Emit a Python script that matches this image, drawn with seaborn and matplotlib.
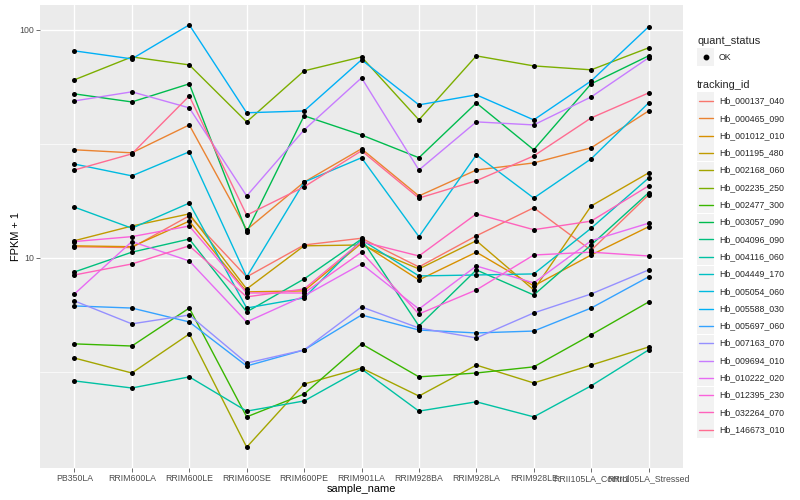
import matplotlib
matplotlib.use("Agg")
import numpy as np
import pandas as pd
import matplotlib.pyplot as plt
from matplotlib.lines import Line2D
from matplotlib.patches import Rectangle
from matplotlib.ticker import NullFormatter
import seaborn as sns

# ---------------------------------------------------------
# data (FPKM + 1)
# ---------------------------------------------------------
samples = ["PB350LA", "RRIM600LA", "RRIM600LE", "RRIM600SE", "RRIM600PE",
           "RRIM901LA", "RRIM928BA", "RRIM928LA", "RRIM928LE",
           "RRII105LA_Control", "RRII105LA_Stressed"]

tracking_ids = ["Hb_000137_040", "Hb_000465_090", "Hb_001012_010", "Hb_001195_480",
                "Hb_002168_060", "Hb_002235_250", "Hb_002477_300", "Hb_003057_090",
                "Hb_004096_090", "Hb_004116_060", "Hb_004449_170", "Hb_005054_060",
                "Hb_005588_030", "Hb_005697_060", "Hb_007163_070", "Hb_009694_010",
                "Hb_010222_020", "Hb_012395_230", "Hb_032264_070", "Hb_146673_010"]

hb_000137_040 = [11.2, 11.1, 15.3, 8.26, 11.4, 12.2, 9.13, 12.5, 16.6, 10.8, 18.9]
hb_000465_090 = [29.8, 28.9, 38.3, 13.3, 21.5, 30.1, 18.7, 24.3, 26.1, 30.4, 44.1]
hb_001012_010 = [11.3, 11.2, 14.5, 7.10, 7.17, 11.6, 8.01, 10.6, 7.54, 10.3, 13.7]
hb_001195_480 = [11.9, 13.8, 15.6, 7.31, 11.3, 11.4, 8.95, 11.9, 7.24, 16.9, 23.6]
hb_002168_060 = [3.64, 3.13, 4.64, 1.48, 2.80, 3.29, 2.48, 3.39, 2.83, 3.39, 4.07]
hb_002235_250 = [60.4, 76.1, 70.2, 39.5, 66.1, 76.1, 40.3, 76.9, 69.5, 66.8, 83.4]
hb_002477_300 = [4.20, 4.11, 6.03, 2.01, 2.53, 4.20, 3.01, 3.13, 3.33, 4.60, 6.41]
hb_003057_090 = [52.4, 48.3, 58.0, 13.0, 42.0, 34.6, 27.5, 47.8, 29.8, 58.0, 76.9]
hb_004096_090 = [8.68, 10.6, 12.1, 5.80, 8.09, 12.1, 5.03, 8.86, 6.88, 11.4, 19.3]
hb_004116_060 = [2.89, 2.69, 3.01, 2.13, 2.36, 3.26, 2.13, 2.34, 2.01, 2.75, 3.95]
hb_004449_170 = [16.7, 13.5, 17.4, 6.03, 6.68, 12.0, 8.34, 8.42, 8.51, 13.5, 22.4]
hb_005054_060 = [25.8, 22.9, 29.2, 8.26, 21.5, 27.5, 12.4, 28.3, 18.3, 27.2, 47.8]
hb_005588_030 = [80.9, 74.6, 105.2, 43.3, 44.1, 73.9, 46.9, 51.9, 40.3, 59.7, 103.1]
hb_005697_060 = [6.16, 6.03, 5.24, 3.36, 3.95, 5.62, 4.83, 4.69, 4.78, 6.03, 8.26]
hb_007163_070 = [6.48, 5.14, 5.62, 3.46, 3.95, 6.10, 4.93, 4.46, 5.74, 6.95, 8.86]
hb_009694_010 = [48.8, 53.5, 45.5, 18.7, 36.4, 61.6, 24.3, 39.5, 38.3, 50.8, 75.4]
hb_010222_020 = [6.95, 11.8, 9.70, 5.24, 6.81, 9.41, 5.97, 9.22, 7.77, 11.9, 14.2]
hb_012395_230 = [11.8, 12.4, 13.8, 7.02, 7.02, 10.6, 5.68, 7.24, 10.3, 10.6, 10.2]
hb_032264_070 = [8.42, 9.41, 11.3, 6.75, 7.31, 11.8, 10.2, 15.6, 13.3, 14.5, 20.7]
hb_146673_010 = [24.3, 28.6, 51.3, 15.4, 20.5, 29.5, 18.3, 21.8, 28.0, 41.1, 52.9]

series = [hb_000137_040, hb_000465_090, hb_001012_010, hb_001195_480, hb_002168_060,
          hb_002235_250, hb_002477_300, hb_003057_090, hb_004096_090, hb_004116_060,
          hb_004449_170, hb_005054_060, hb_005588_030, hb_005697_060, hb_007163_070,
          hb_009694_010, hb_010222_020, hb_012395_230, hb_032264_070, hb_146673_010]

# ggplot2 default hue palette for 20 levels
colors = ["#F8766D", "#EA8331", "#D89000", "#C09B00", "#A3A500", "#7CAE00", "#39B600",
          "#00BB4E", "#00BF7D", "#00C1A3", "#00BFC4", "#00BAE0", "#00B0F6", "#35A2FF",
          "#9590FF", "#C77CFF", "#E76BF3", "#FA62DB", "#FF62BC", "#FF6C91"]

rows = []
for tid, vals in zip(tracking_ids, series):
    for s, v in zip(samples, vals):
        rows.append({"tracking_id": tid, "sample_name": s, "fpkm": v, "quant_status": "OK"})
df = pd.DataFrame(rows)

# ---------------------------------------------------------
# style — mimic ggplot2 theme_grey
# ---------------------------------------------------------
sns.set_theme(style="darkgrid", rc={
    "axes.facecolor": "#EBEBEB",
    "grid.color": "white",
    "axes.edgecolor": "#EBEBEB",
})
plt.rcParams["font.family"] = ["Liberation Sans", "DejaVu Sans"]

W, H = 800, 500
fig = plt.figure(figsize=(8, 5), dpi=100)
ax = fig.add_axes([40 / W, 1 - 468 / H, (683 - 40) / W, (468 - 5) / H])

sns.lineplot(data=df, x="sample_name", y="fpkm", hue="tracking_id",
             hue_order=tracking_ids, palette=colors, sort=False,
             estimator=None, errorbar=None, lw=1.0, legend=False, ax=ax)
sns.scatterplot(data=df, x="sample_name", y="fpkm", color="black", s=13,
                linewidth=0, legend=False, ax=ax, zorder=5)

ax.set_yscale("log")
ax.set_ylim(10 ** 0.079, 10 ** 2.109)
ax.set_xlim(-0.6, len(samples) - 0.4)
ax.set_yticks([10, 100])
ax.set_yticklabels(["10", "100"])
ax.set_yticks([10 ** 0.5, 10 ** 1.5], minor=True)
ax.yaxis.set_minor_formatter(NullFormatter())
ax.set_xticks(range(len(samples)))
ax.set_xticklabels(samples)

ax.grid(which="major", color="white", lw=1.0)
ax.grid(which="minor", axis="y", color="white", lw=0.5)
ax.tick_params(which="major", length=2.75, width=0.5, color="#333333",
               labelsize=6.3, labelcolor="#4D4D4D", pad=1.5, bottom=True, left=True)
ax.tick_params(which="minor", length=0)
for sp in ax.spines.values():
    sp.set_visible(False)

ax.set_xlabel("sample_name", fontsize=7.9, color="black", labelpad=0.5)
ax.set_ylabel("FPKM + 1", fontsize=7.9, color="black", labelpad=-1)

# ---------------------------------------------------------
# legends (drawn by hand, ggplot layout)
# ---------------------------------------------------------
def fx(px):
    return px / W

def fy(py):
    return 1 - py / H

key = 17
fig.text(fx(697), fy(41), "quant_status", fontsize=7.9, va="center", ha="left")
fig.add_artist(Rectangle((fx(697), fy(57 + key / 2)), key / W, key / H,
                         transform=fig.transFigure, facecolor="#F2F2F2", edgecolor="none"))
fig.add_artist(Line2D([fx(697 + key / 2)], [fy(57)], marker="o", color="black",
                      markersize=3.2, transform=fig.transFigure))
fig.text(fx(719), fy(57), "OK", fontsize=6.3, va="center", ha="left")

fig.text(fx(697), fy(85), "tracking_id", fontsize=7.9, va="center", ha="left")
for i, (tid, c) in enumerate(zip(tracking_ids, colors)):
    yc = 101 + i * 17.3
    fig.add_artist(Rectangle((fx(697), fy(yc + key / 2)), key / W, key / H,
                             transform=fig.transFigure, facecolor="#F2F2F2",
                             edgecolor="none"))
    fig.add_artist(Line2D([fx(699), fx(713)], [fy(yc), fy(yc)], color=c, lw=1.0,
                          transform=fig.transFigure))
    fig.text(fx(719), fy(yc), tid, fontsize=6.3, va="center", ha="left")

fig.savefig("out.png", dpi=100)
